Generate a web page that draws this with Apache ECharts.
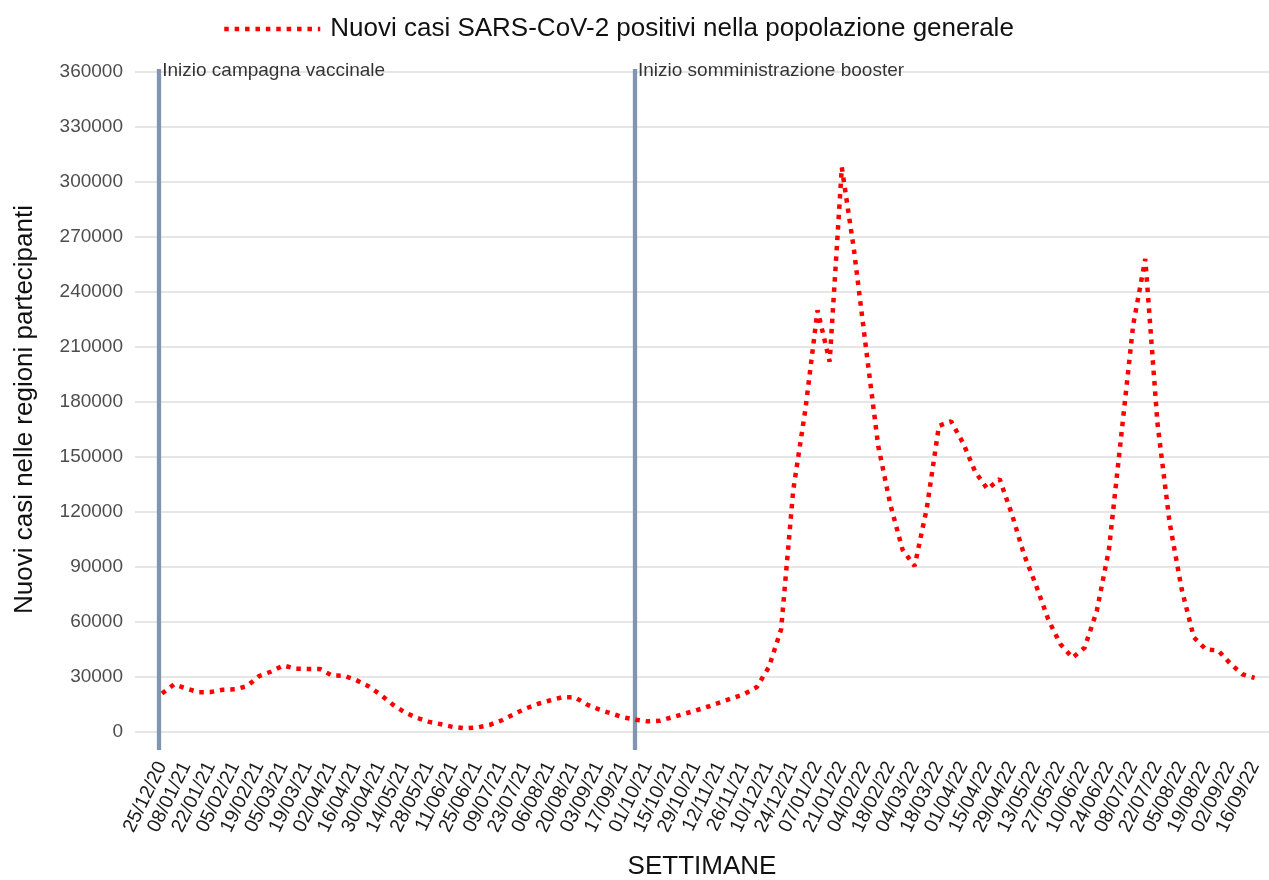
<!DOCTYPE html>
<html>
<head>
<meta charset="utf-8">
<script src="https://cdn.jsdelivr.net/npm/echarts@6/dist/echarts.min.js"></script>
<style>
  html, body { margin: 0; background: #fff; }
  #chart { width: 1269px; height: 880px; }
</style>
</head>
<body>
<div id="chart"></div>
<script>
// week labels, one every two weeks (week index 0, 2, 4, ...)
const weekLabels = [
  "25/12/20", "08/01/21", "22/01/21", "05/02/21", "19/02/21", "05/03/21",
  "19/03/21", "02/04/21", "16/04/21", "30/04/21", "14/05/21", "28/05/21",
  "11/06/21", "25/06/21", "09/07/21", "23/07/21", "06/08/21", "20/08/21",
  "03/09/21", "17/09/21", "01/10/21", "15/10/21", "29/10/21", "12/11/21",
  "26/11/21", "10/12/21", "24/12/21", "07/01/22", "21/01/22", "04/02/22",
  "18/02/22", "04/03/22", "18/03/22", "01/04/22", "15/04/22", "29/04/22",
  "13/05/22", "27/05/22", "10/06/22", "24/06/22", "08/07/22", "22/07/22",
  "05/08/22", "19/08/22", "02/09/22", "16/09/22",
];

// weekly new cases, from 25/12/20 to 16/09/22
const newCases = [
  21000, 26000, 23700, 21700, 21800, 23000, 23300, 25000, 30500, 33000,
  36300, 34500, 34400, 34400, 30800, 30700, 28300, 25000, 20400, 15000,
  10700, 7700, 5500, 4200, 2700, 2000, 2500, 3900, 6400, 9800,
  12900, 15400, 17300, 19000, 19000, 15000, 12300, 10100, 8000, 6700,
  5800, 6100, 8000, 9900, 11800, 13900, 16200, 18500, 20800, 24500,
  35500, 56000, 132000, 176000, 230000, 202000, 308000, 263000, 209000, 156000,
  124000, 99500, 90500, 122000, 167000, 169500, 157500, 141800, 132500, 138000,
  119000, 97000, 80000, 61500, 48000, 40500, 46000, 65900, 99300, 160500,
  222000, 258000, 168500, 114300, 77800, 51600, 45000, 44500, 37300, 31500,
  29500,
];

const yTicks = [0, 30000, 60000, 90000, 120000, 150000, 180000, 210000,
  240000, 270000, 300000, 330000, 360000];

// vertical event lines (week index) and their captions
const eventWeeks = [-0.23, 38.96];
const eventLabels = ["Inizio campagna vaccinale", "Inizio somministrazione booster"];
const eventLabelY = 360900;

const seriesName = "Nuovi casi SARS-CoV-2 positivi nella popolazione generale";
const font = "Liberation Sans, Arial, sans-serif";
const dotted = { color: "#ff0000", width: 4.5, type: [4.5, 5.9], cap: "butt" };

const chart = echarts.init(document.getElementById("chart"), null, { renderer: "canvas" });

const labelWeeks = weekLabels.map((d, i) => i * 2);

chart.setOption({
  animation: false,
  backgroundColor: "#fff",
  textStyle: { fontFamily: font },
  legend: {
    data: [seriesName],
    left: 217,
    top: 11,
    itemWidth: 96,
    itemHeight: 14,
    itemStyle: { color: "rgba(0,0,0,0)", borderWidth: 0, opacity: 0 },
    lineStyle: dotted,
    textStyle: { fontSize: 26, color: "#111", fontFamily: font, padding: [0, 0, 0, 5] },
  },
  grid: {
    left: 135, right: 0, top: 69, bottom: 130,
    containLabel: false, outerBoundsMode: "none",
  },
  xAxis: {
    type: "value",
    min: -2.224,
    max: 91.19,
    name: "SETTIMANE",
    nameLocation: "middle",
    nameGap: 104,
    nameTextStyle: { fontSize: 26, color: "#111", fontFamily: font },
    axisLine: { show: false },
    axisTick: { show: false, customValues: labelWeeks },
    splitLine: { show: false },
    axisLabel: {
      customValues: labelWeeks,
      rotate: 64,
      margin: 13,
      fontSize: 19.5,
      color: "#1a1a1a",
      fontFamily: font,
      formatter: (v) => weekLabels[Math.round(v / 2)],
    },
  },
  yAxis: {
    type: "value",
    min: -9818,
    max: 361636,
    name: "Nuovi casi nelle regioni partecipanti",
    nameLocation: "middle",
    nameGap: 97,
    nameTextStyle: { fontSize: 26, color: "#111", fontFamily: font },
    axisLine: { show: false },
    axisTick: { show: false, customValues: yTicks },
    splitLine: { show: true, lineStyle: { color: "#e6e6e6", width: 2 } },
    axisLabel: {
      customValues: yTicks,
      margin: 12,
      fontSize: 19,
      color: "#4d4d4d",
      fontFamily: font,
      formatter: (v) => String(v),
    },
  },
  series: [
    {
      name: seriesName,
      type: "line",
      data: newCases.map((v, i) => [i, v]),
      symbol: "none",
      smooth: false,
      lineStyle: dotted,
      itemStyle: { color: "#ff0000" },
      z: 3,
      markLine: {
        silent: true,
        symbol: "none",
        label: { show: false },
        lineStyle: { color: "#8096b0", width: 4.3, type: "solid" },
        data: eventWeeks.map((w) => ({ xAxis: w })),
        z: 2,
      },
    },
    {
      name: "eventi",
      type: "scatter",
      symbolSize: 0,
      silent: true,
      data: eventWeeks.map((w, i) => [w, eventLabelY, eventLabels[i]]),
      label: {
        show: true,
        position: "right",
        distance: 3,
        fontSize: 19,
        color: "#000",
        fontFamily: font,
        formatter: (p) => p.data[2],
      },
      z: 4,
    },
  ],
});
</script>
</body>
</html>
